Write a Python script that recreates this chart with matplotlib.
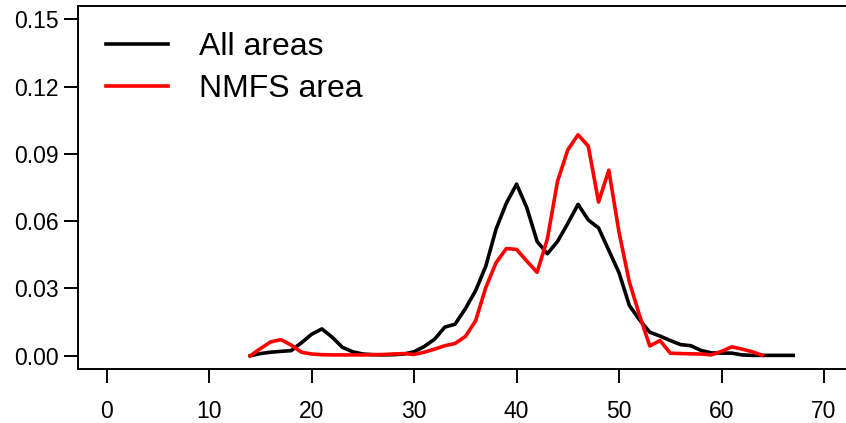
import numpy as np
import matplotlib
matplotlib.use("Agg")
import matplotlib.pyplot as plt

plt.rcParams['font.family'] = ['Liberation Sans', 'DejaVu Sans']

# length bins (x) and proportions
len_all = np.arange(14, 68)
prop_all = [0.0, 0.0010, 0.0016, 0.0020, 0.0023, 0.0058, 0.0096, 0.0120, 0.0083, 0.0038,
            0.0018, 0.0008, 0.0005, 0.0004, 0.0005, 0.0008, 0.0018, 0.0042, 0.0074, 0.0128,
            0.0141, 0.0210, 0.0290, 0.0400, 0.0565, 0.0680, 0.0765, 0.0660, 0.0510, 0.0455,
            0.0510, 0.0590, 0.0675, 0.0605, 0.0570, 0.0470, 0.0370, 0.0225, 0.0160, 0.0105,
            0.0088, 0.0068, 0.0050, 0.0045, 0.0024, 0.0013, 0.0012, 0.0012, 0.0004, 0.0002,
            0.0002, 0.0002, 0.0002, 0.0002]

len_nmfs = np.arange(14, 65)
prop_nmfs = [0.0, 0.0032, 0.0062, 0.0072, 0.0048, 0.0016, 0.0008, 0.0005, 0.0004, 0.0004,
             0.0004, 0.0004, 0.0005, 0.0006, 0.0008, 0.0010, 0.0006, 0.0016, 0.0030, 0.0045,
             0.0055, 0.0086, 0.0156, 0.0305, 0.0415, 0.0478, 0.0474, 0.0422, 0.0372, 0.0520,
             0.0778, 0.0918, 0.0985, 0.0934, 0.0685, 0.0827, 0.0550, 0.0330, 0.0180, 0.0044,
             0.0068, 0.0012, 0.0010, 0.0009, 0.0008, 0.0004, 0.0020, 0.0040, 0.0030, 0.0018,
             0.0002]

xticks = [0, 10, 20, 30, 40, 50, 60, 70]
yticks = [0.00, 0.03, 0.06, 0.09, 0.12, 0.15]

fig = plt.figure(figsize=(8.46, 4.23), dpi=100)
ax = fig.add_axes([0.0922, 0.127, 0.9157, 0.8595])

ax.plot(len_all, prop_all, color='black', lw=2.6, label='All areas', solid_joinstyle='round')
ax.plot(len_nmfs, prop_nmfs, color='red', lw=2.6, label='NMFS area', solid_joinstyle='round')

ax.set_xlim(-2.8, 72.8)
ax.set_ylim(-0.006, 0.156)
ax.set_xticks(xticks)
ax.set_xticklabels([str(t) for t in xticks])
ax.set_yticks(yticks)
ax.set_yticklabels(['%.2f' % t for t in yticks])
ax.tick_params(labelsize=16.5, length=10, width=1.4, direction='out', pad=12)
ax.tick_params(axis='y', pad=4)
for s in ax.spines.values():
    s.set_linewidth(1.4)

ax.legend(loc='upper left', bbox_to_anchor=(0.036, 0.927), frameon=False, fontsize=23,
          handlelength=1.95, handletextpad=0.95, labelspacing=0.36, borderpad=0,
          borderaxespad=0)

fig.savefig('out.png', dpi=100)
